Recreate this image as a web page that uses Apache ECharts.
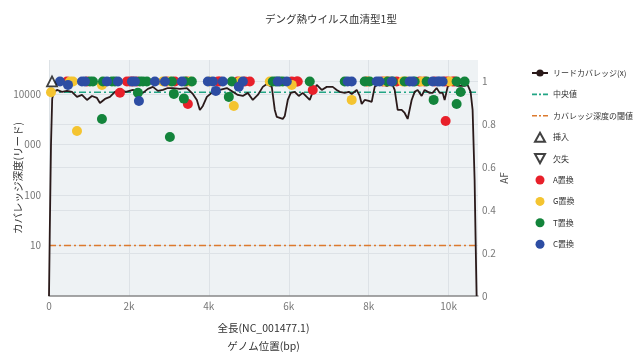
<!DOCTYPE html>
<html><head><meta charset="utf-8">
<script src="https://cdn.jsdelivr.net/npm/echarts@6/dist/echarts.min.js"></script>
<style>html,body{margin:0;padding:0;background:#fff}#c{width:635px;height:352px}</style>
</head><body><div id="c"></div>
<script>
// ---- data ----
const genomeLen = 10735;
const covPos = [0,20,50,80,120,200,325,450,575,700,825,950,1075,1200,1275,1400,1525,1650,1775,1925,2100,2225,2350,2475,2600,2725,2850,2975,3100,3275,3450,3600,3700,3775,3850,3950,4100,4275,4450,4600,4725,4850,4975,5100,5225,5350,5450,5575,5650,5700,5775,5850,5900,5975,6050,6150,6250,6350,6450,6525,6600,6700,6825,6950,7100,7200,7275,7400,7500,7575,7700,7775,7825,7900,8000,8075,8150,8275,8375,8450,8575,8650,8725,8825,8900,8975,9075,9150,9225,9325,9400,9525,9600,9700,9775,9850,9900,9975,10075,10225,10400,10475,10550,10600,10650,10675,10700];
const covDepth = [1,20,1000,8000,11000,12000,11000,11500,11000,8730,9550,7600,9120,8340,6640,7960,8730,11000,12000,11000,12000,11000,10500,12600,13800,11500,12000,13100,13100,12600,13100,10000,7600,4820,5780,8730,11000,12000,13100,11000,9550,9120,10500,7600,9550,13800,15800,13800,4820,3500,3350,3200,3670,7600,10500,11000,9120,10500,8730,7600,11000,15100,12000,13800,13800,12000,11000,10500,11000,10000,12000,9120,6340,7600,7260,6950,13800,16500,15100,14400,16500,12000,4820,4820,4200,3200,7600,11000,12000,9120,12000,10500,10500,13100,10500,10500,7600,13800,16500,14400,14400,15100,11000,4820,198,13,1];
const medianDepth = 10800;
const thresholdDepth = 10;

const insPos = [75];
const insAF = [1.0];
const delPos = [];
const delAF = [];

const aPos = [450,950,1950,2025,2100,2200,2950,3150,3450,4225,4275,4725,4900,5025,6075,6200,6225,7950,8350,8450,8700,9275,9400,9650,9900,9975,10100,10150,1775,3475,6600,9925];
const aAF  = [1,1,1,1,1,1,1,1,1,1,1,1,1,1,1,1,1,1,1,1,1,1,1,1,1,1,1,1,0.947,0.895,0.96,0.816];
const gPos = [525,600,2850,3025,3525,4025,4775,5525,7975,8400,8525,8850,8950,9325,10025,50,1325,4625,700,6075,7575];
const gAF  = [1,1,1,1,1,1,1,1,1,1,1,1,1,1,1,0.95,0.984,0.886,0.769,0.984,0.914];
const tPos = [1025,1100,1350,1575,1650,2275,2350,2450,3075,3400,3575,4575,5600,5675,5775,5850,6525,7400,7900,8025,8475,8600,8900,9150,9450,10200,10400,2225,3125,3375,4500,1325,3025,9625,10300,10200];
const tAF  = [1,1,1,1,1,1,1,1,1,1,1,1,1,1,1,1,1,1,1,1,1,1,1,1,1,1,1,0.947,0.942,0.92,0.928,0.825,0.741,0.914,0.951,0.895];
const cPos = [275,825,900,1450,1725,2075,2150,2650,2900,3325,3975,4100,4350,4850,5725,5950,7475,7575,8200,8275,8575,9025,9100,9600,9725,9775,9850,475,2250,4175,4750];
const cAF  = [1,1,1,1,1,1,1,1,1,1,1,1,1,1,1,1,1,1,1,1,1,1,1,1,1,1,1,0.984,0.909,0.956,0.975];

const xTickValues = [0,2000,4000,6000,8000,10000];
const xTickLabels = ['0','2k','4k','6k','8k','10k'];
const yTickValues = [10,100,1000,10000];
const yTickLabels = ['10','100','000','10000'];
const afTickValues = [0,0.2,0.4,0.6,0.8,1];
const afTickLabels = ['0','0.2','0.4','0.6','0.8','1'];

// ---- chart ----
const zip = (a,b) => a.map((v,i)=>[v,b[i]]);
const FONT = "'Noto Sans CJK JP', 'Noto Sans', sans-serif";
const chart = echarts.init(document.getElementById('c'), null, {renderer:'canvas'});
const col = {A:'#e8202a', G:'#f4c430', T:'#13843b', C:'#2d4da3'};
const DASHDOT_ICON = 'path://M0,0 h5 v1.6 h-5 z M7,0 h2 v1.6 h-2 z M11,0 h5 v1.6 h-5 z';
function lab(vals, labs){ return v => { const i = vals.findIndex(t => Math.abs(t - v) < 1e-6 * Math.max(1, Math.abs(t))); return i >= 0 ? labs[i] : ''; }; }
function scat(name, pos, af, color){
  return {name, type:'scatter', yAxisIndex:1, data: zip(pos, af), symbol:'circle', symbolSize:10,
    itemStyle:{color, opacity:1}, z:5};
}
chart.setOption({
  animation:false,
  textStyle:{fontFamily:FONT},
  title:{text:'デング熱ウイルス血清型1型', left:326, top:9, textAlign:'center',
    textStyle:{fontSize:10.5, fontWeight:'normal', color:'#333', fontFamily:FONT}},
  grid:{left:49, right:157, top:60, bottom:56, containLabel:false, outerBoundsMode:'none',
    show:true, backgroundColor:'#eef2f4', borderWidth:0},
  legend:{orient:'vertical', left:526, top:62, itemWidth:16, itemHeight:9, itemGap:9.4, symbolKeepAspect:true,
    textStyle:{fontSize:8, color:'#333', lineHeight:12, fontFamily:FONT},
    data:[
      {name:'リードカバレッジ(x)'},
      {name:'中央値', icon:DASHDOT_ICON},
      {name:'カバレッジ深度の閾値', icon:DASHDOT_ICON},
      {name:'挿入', icon:'path://M5,0 L10,9 L0,9 Z'},
      {name:'欠失', icon:'path://M0,0 L10,0 L5,9 Z'},
      {name:'A置換', icon:'circle'},
      {name:'G置換', icon:'circle'},
      {name:'T置換', icon:'circle'},
      {name:'C置換', icon:'circle'}
    ]},
  xAxis:{type:'value', min:0, max:genomeLen, interval:2000,
    name:'全長(NC_001477.1)\nゲノム位置(bp)', nameLocation:'middle', nameGap:23, nameMoveOverlap:false,
    nameTextStyle:{fontSize:10.5, color:'#333', lineHeight:18, verticalAlign:'top', fontFamily:FONT},
    axisLine:{show:true, lineStyle:{color:'#888', width:1.5}}, axisTick:{show:false},
    axisLabel:{fontSize:10, color:'#777', margin:5, showMaxLabel:false, formatter: lab(xTickValues, xTickLabels)},
    splitLine:{show:true, showMaxLine:false, lineStyle:{color:'#dde2e6', width:1}}},
  yAxis:[
    {type:'log', logBase:10, min:1, max:47000, position:'left',
     name:'カバレッジ深度(リード)', nameLocation:'middle', nameRotate:90, nameGap:26, nameMoveOverlap:false,
     nameTextStyle:{fontSize:10.5, color:'#333', fontFamily:FONT},
     axisLine:{show:false}, axisTick:{show:false},
     axisLabel:{fontSize:10, color:'#777', margin:8, showMinLabel:false, showMaxLabel:false, formatter: lab(yTickValues, yTickLabels)},
     splitLine:{show:true, showMinLine:false, showMaxLine:false, lineStyle:{color:'#dde2e6', width:1}},
     minorTick:{show:false}},
    {type:'value', min:0, max:1.1, interval:0.2, position:'right',
     name:'AF', nameLocation:'middle', nameRotate:90, nameGap:21, nameMoveOverlap:false,
     nameTextStyle:{fontSize:10, color:'#555', fontFamily:FONT},
     axisLine:{show:false}, axisTick:{show:false},
     axisLabel:{fontSize:10, color:'#777', margin:4, showMaxLabel:false, formatter: lab(afTickValues, afTickLabels)},
     splitLine:{show:true, showMinLine:false, showMaxLine:false, lineStyle:{color:'#dde2e6', width:1}}}
  ],
  series:[
    {name:'リードカバレッジ(x)', type:'line', yAxisIndex:0, data: zip(covPos, covDepth),
     symbol:'circle', symbolSize:5, showSymbol:false, smooth:false,
     lineStyle:{color:'#2a1a1a', width:1.8}, itemStyle:{color:'#2a1a1a'}, z:3},
    {name:'中央値', type:'line', yAxisIndex:0, data:[[0,medianDepth],[genomeLen,medianDepth]],
     symbol:'none', lineStyle:{color:'#22a585', width:1.5, type:[7,3,2,3]}, itemStyle:{color:'#22a585'}, z:2},
    {name:'カバレッジ深度の閾値', type:'line', yAxisIndex:0, data:[[0,thresholdDepth],[genomeLen,thresholdDepth]],
     symbol:'none', lineStyle:{color:'#dc7a2e', width:1.5, type:[7,3,2,3]}, itemStyle:{color:'#dc7a2e'}, z:2},
    {name:'挿入', type:'scatter', yAxisIndex:1, data: zip(insPos, insAF), symbol:'triangle', symbolSize:10,
     itemStyle:{color:'#ffffff', borderColor:'#111', borderWidth:1.8}, z:6},
    {name:'欠失', type:'scatter', yAxisIndex:1, data: zip(delPos, delAF), symbol:'path://M0,0 L10,0 L5,9 Z', symbolSize:10,
     itemStyle:{color:'#ffffff', borderColor:'#111', borderWidth:1.8}, z:6},
    scat('A置換', aPos, aAF, col.A),
    scat('G置換', gPos, gAF, col.G),
    scat('T置換', tPos, tAF, col.T),
    scat('C置換', cPos, cAF, col.C)
  ]
});
</script>
</body></html>
